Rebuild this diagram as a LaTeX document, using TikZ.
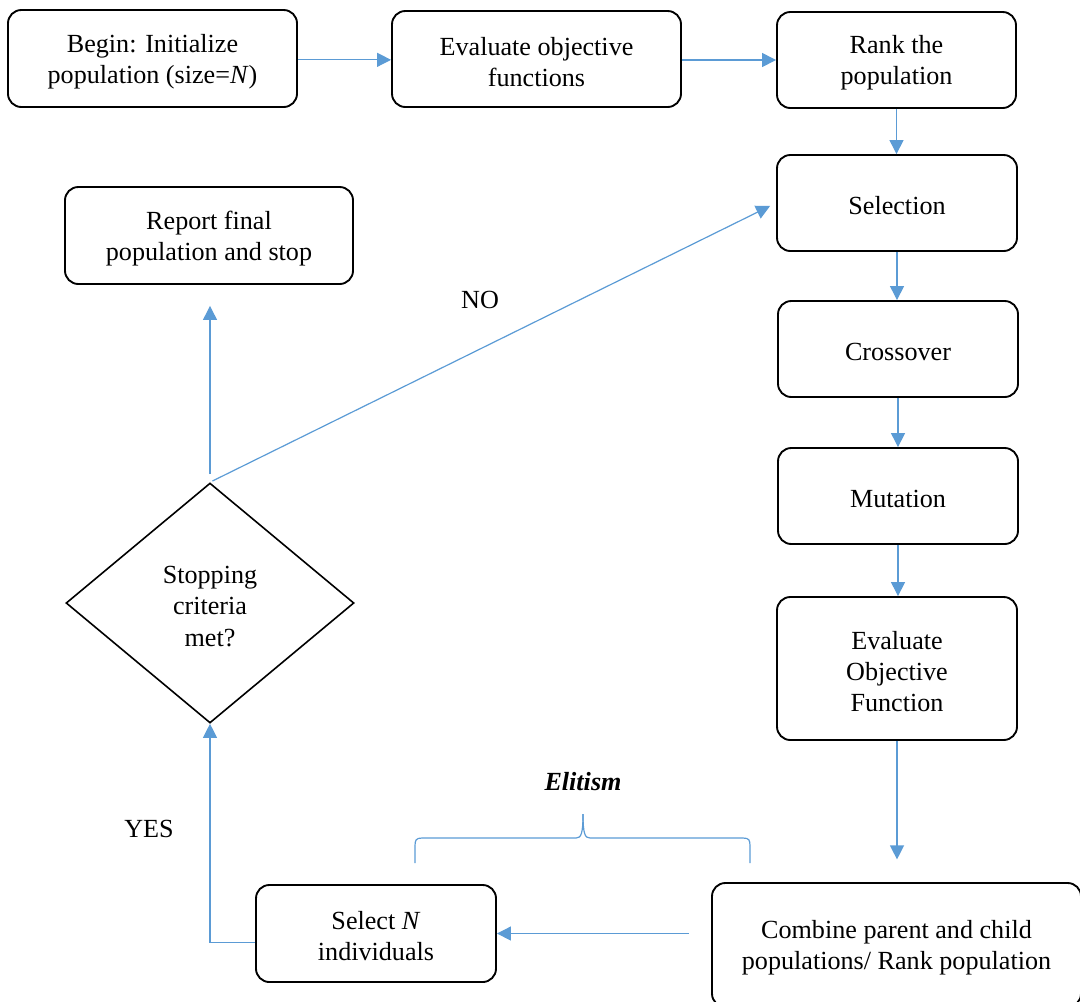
\documentclass[tikz,border=0pt]{standalone}
\usepackage{fontspec}
\setmainfont{Liberation Serif}
\usetikzlibrary{arrows.meta,shapes.geometric}
\definecolor{flowblue}{HTML}{5B9BD5}
\newcommand\diagfont{\fontsize{19.6}{23.4}\selectfont}
% strut that sets the first text line a little lower in its box
\newcommand\firstline{\rule{0pt}{18pt}}
\begin{document}
\begin{tikzpicture}[x=0.75pt,y=-0.75pt,
  box/.style={draw=black,line width=1.4pt,rounded corners=10pt,align=center,
    inner sep=0pt,font=\diagfont},
  decision/.style={draw=black,line width=1.2pt,diamond,align=center,
    inner sep=0pt,font=\diagfont,minimum width=216pt,minimum height=180pt},
  lbl/.style={font=\diagfont,inner sep=0pt},
  link/.style={draw=flowblue,line width=0.9pt,
    -{Triangle[length=10.5pt,width=10.5pt]}},
  bracket/.style={draw=flowblue,line width=0.9pt}]
\useasboundingbox (0,0) rectangle (1080,1001);
\clip (0,0) rectangle (1080,1001);

% process boxes
\node[box,minimum width=216.75pt,minimum height=72.75pt] (beg) at (152.5,58.5)
  {\firstline Begin: Initialize\\population (size=\textit{N})};
\node[box,minimum width=216.75pt,minimum height=72pt] (evo) at (536.5,59)
  {\firstline Evaluate objective\\functions};
\node[box,minimum width=179.25pt,minimum height=72pt] (rank) at (896.5,60)
  {\firstline Rank the\\population};
\node[box,minimum width=180pt,minimum height=72pt] (sel) at (897,203)
  {\firstline Selection};
\node[box,minimum width=180pt,minimum height=72pt] (cro) at (898,349)
  {\firstline Crossover};
\node[box,minimum width=180pt,minimum height=72pt] (mut) at (898,496)
  {\firstline Mutation};
\node[box,minimum width=180pt,minimum height=107.25pt] (eof) at (897,668.5)
  {\firstline Evaluate\\Objective\\Function};
\node[box,minimum width=276.75pt,minimum height=93pt] (comb) at (896.5,945)
  {\firstline Combine parent and child\\populations/ Rank population};
\node[box,minimum width=180pt,minimum height=72.75pt] (seln) at (376,933.5)
  {\firstline Select \textit{N}\\individuals};
\node[box,minimum width=216pt,minimum height=72.75pt] (rep) at (209,235.5)
  {\firstline Report final\\population and stop};
\node[decision] (dia) at (210,603) {\firstline Stopping\\criteria\\met?};

% labels
\node[lbl] (no) at (480,300) {NO};
\node[lbl] (yes) at (149,829) {YES};
\node[lbl] (eli) at (583,782) {\textbf{\textit{Elitism}}};

% connectors
\draw[link] ([yshift=-1pt]beg.east) -- ([yshift=-1pt]beg.east -| evo.west);
\draw[link] ([yshift=-0.75pt]evo.east) -- ([yshift=-0.75pt]evo.east -| rank.west);
\draw[link] (rank.south) -- (rank.south |- sel.north);
\draw[link] (sel.south) -- (sel.south |- cro.north);
\draw[link] (cro.south) -- (cro.south |- mut.north);
\draw[link] (mut.south) -- (mut.south |- eof.north);
\draw[link,shorten >=17pt] (eof.south) -- (eof.south |- comb.north);
\draw[link,shorten <=16.5pt] (comb.west |- seln.east) -- (seln.east);
\draw[link] ([yshift=-6.5pt]seln.west) -| (dia.south);
\draw[link,shorten <=6pt,shorten >=15.75pt] (dia.north) -- (dia.north |- rep.south);
\draw[link,shorten <=2pt,shorten >=5pt] (dia.north) -- (sel.west);

% brace over the elitism step
\draw[bracket] (415,863) -- (415,846) .. controls (415,840) and (416,838) .. (422,838)
  -- (576,838) .. controls (581,838) and (583,834) .. (583,814);
\draw[bracket] (750,863) -- (750,846) .. controls (750,840) and (749,838) .. (743,838)
  -- (590,838) .. controls (585,838) and (583,834) .. (583,814);
\end{tikzpicture}
\end{document}
